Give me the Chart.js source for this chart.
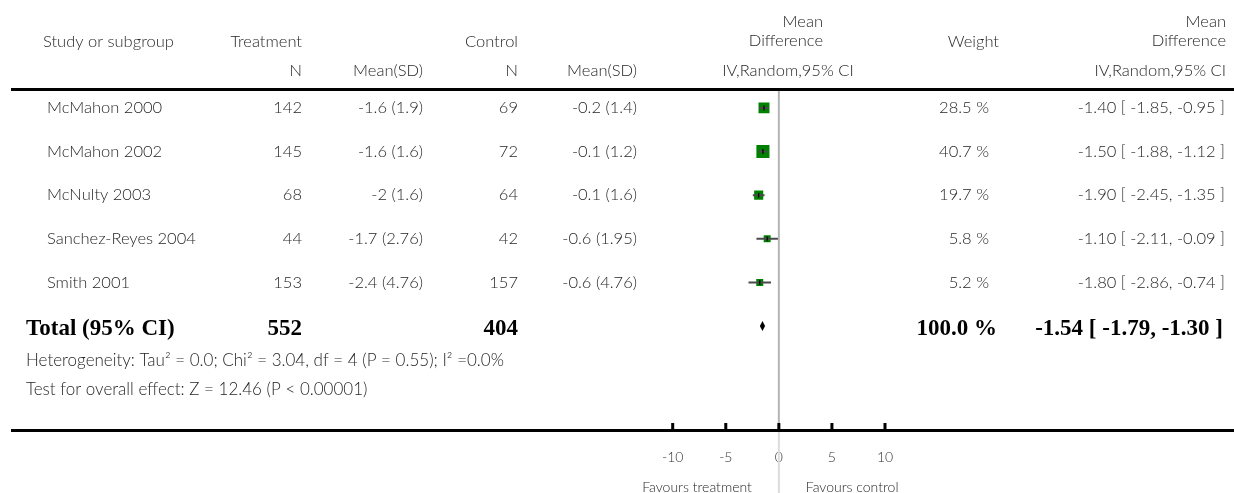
<!DOCTYPE html>
<html>
<head>
<meta charset="utf-8">
<title>Forest plot</title>
<script src="https://cdn.jsdelivr.net/npm/chart.js@4.4.1/dist/chart.umd.min.js"></script>
<style>
  html, body { margin: 0; padding: 0; background: #fff; }
  canvas { display: block; }
</style>
</head>
<body>
<canvas id="forest" width="1234" height="493"></canvas>
<script>
const studies = ['McMahon 2000', 'McMahon 2002', 'McNulty 2003', 'Sanchez-Reyes 2004', 'Smith 2001'];
const treatN = [142, 145, 68, 44, 153];
const treatMean = [-1.6, -1.6, -2, -1.7, -2.4];
const treatSD = [1.9, 1.6, 1.6, 2.76, 4.76];
const controlN = [69, 72, 64, 42, 157];
const controlMean = [-0.2, -0.1, -0.1, -0.6, -0.6];
const controlSD = [1.4, 1.2, 1.6, 1.95, 4.76];
const weights = [28.5, 40.7, 19.7, 5.8, 5.2];
const meanDiff = [-1.40, -1.50, -1.90, -1.10, -1.80];
const ciLow = [-1.85, -1.88, -2.45, -2.11, -2.86];
const ciHigh = [-0.95, -1.12, -1.35, -0.09, -0.74];

const totalN = [552, 404];
const totalWeight = 100.0;
const totalDiff = -1.54;
const totalLow = -1.79;
const totalHigh = -1.30;

const xTicks = [-10, -5, 0, 5, 10];
const heterogeneity = 'Heterogeneity: Tau\u00B2 = 0.0; Chi\u00B2 = 3.04, df = 4 (P = 0.55); I\u00B2 =0.0%';
const overallEffect = 'Test for overall effect: Z = 12.46 (P < 0.00001)';

const SANS = 'Lato, "Open Sans", sans-serif';
const SERIF = '"Liberation Serif", "DejaVu Serif", serif';
const TEXT = '#262626';
const totalRow = studies.length;

const fmtCI = (m, lo, hi) => `${m.toFixed(2)} [ ${lo.toFixed(2)}, ${hi.toFixed(2)} ]`;
const squareSide = (w) => Math.max(7, 2.05 * Math.sqrt(w));

// columns of the table, x is the anchor edge
const columns = [
  { x: 47, align: 'left', cell: (i) => studies[i] },
  { x: 302, align: 'right', cell: (i) => String(treatN[i]) },
  { x: 423, align: 'right', cell: (i) => `${treatMean[i]} (${treatSD[i]})` },
  { x: 518, align: 'right', cell: (i) => String(controlN[i]) },
  { x: 637, align: 'right', cell: (i) => `${controlMean[i]} (${controlSD[i]})` },
  { x: 989, align: 'right', cell: (i) => `${weights[i].toFixed(1)} %` },
  { x: 1225, align: 'right', cell: (i) => fmtCI(meanDiff[i], ciLow[i], ciHigh[i]) },
];

const headers = [
  { text: 'Study or subgroup', x: 43, y: 42, align: 'left' },
  { text: 'Treatment', x: 302, y: 42, align: 'right' },
  { text: 'N', x: 302, y: 71, align: 'right' },
  { text: 'Mean(SD)', x: 423, y: 71, align: 'right' },
  { text: 'Control', x: 518, y: 42, align: 'right' },
  { text: 'N', x: 518, y: 71, align: 'right' },
  { text: 'Mean(SD)', x: 637, y: 71, align: 'right' },
  { text: 'Mean', x: 823, y: 22, align: 'right' },
  { text: 'Difference', x: 823, y: 41, align: 'right' },
  { text: 'IV,Random,95% CI', x: 788, y: 71, align: 'center' },
  { text: 'Weight', x: 999, y: 42, align: 'right' },
  { text: 'Mean', x: 1226, y: 22, align: 'right' },
  { text: 'Difference', x: 1226, y: 41, align: 'right' },
  { text: 'IV,Random,95% CI', x: 1226, y: 71, align: 'right' },
];

function put(ctx, text, x, y, align, font, color) {
  ctx.font = font;
  ctx.fillStyle = color || TEXT;
  ctx.textAlign = align;
  ctx.textBaseline = 'middle';
  ctx.fillText(text, x, y);
}

const forestPlugin = {
  id: 'forestTable',
  beforeDatasetsDraw(chart) {
    const { ctx, chartArea, scales: { x } } = chart;
    const zero = x.getPixelForValue(0);
    ctx.save();
    ctx.lineWidth = 2;
    ctx.strokeStyle = '#b4b4b4';
    ctx.beginPath();
    ctx.moveTo(zero, chartArea.top);
    ctx.lineTo(zero, chartArea.bottom);
    ctx.stroke();
    ctx.strokeStyle = '#dcdcdc';
    ctx.beginPath();
    ctx.moveTo(zero, chartArea.bottom);
    ctx.lineTo(zero, chart.height);
    ctx.stroke();
    ctx.restore();
  },
  afterDraw(chart) {
    const { ctx, chartArea, scales: { x, y } } = chart;
    ctx.save();

    // rules
    ctx.fillStyle = '#000';
    ctx.fillRect(11, chartArea.top - 2, chart.width - 11, 3);
    ctx.fillRect(11, chartArea.bottom, chart.width - 11, 3);
    xTicks.forEach((t) => {
      ctx.fillRect(x.getPixelForValue(t) - 1.5, chartArea.bottom - 6, 3, 6);
    });

    // pooled diamond
    const cy = y.getPixelForValue(totalRow);
    ctx.fillStyle = '#000';
    ctx.beginPath();
    ctx.moveTo(x.getPixelForValue(totalLow), cy);
    ctx.lineTo(x.getPixelForValue(totalDiff), cy - 5);
    ctx.lineTo(x.getPixelForValue(totalHigh), cy);
    ctx.lineTo(x.getPixelForValue(totalDiff), cy + 5);
    ctx.closePath();
    ctx.fill();

    const sans = `300 16.5px ${SANS}`;
    headers.forEach((h) => put(ctx, h.text, h.x, h.y, h.align, sans));

    studies.forEach((_, i) => {
      const ry = y.getPixelForValue(i);
      columns.forEach((c) => put(ctx, c.cell(i), c.x, ry, c.align, sans));
    });

    const bold = `bold 23px ${SERIF}`;
    const ty = y.getPixelForValue(totalRow) + 3;
    put(ctx, 'Total (95% CI)', 26, ty, 'left', bold, '#000');
    put(ctx, String(totalN[0]), 302, ty, 'right', bold, '#000');
    put(ctx, String(totalN[1]), 518, ty, 'right', bold, '#000');
    put(ctx, `${totalWeight.toFixed(1)} %`, 997, ty, 'right', bold, '#000');
    put(ctx, fmtCI(totalDiff, totalLow, totalHigh), 1223, ty, 'right', bold, '#000');

    put(ctx, heterogeneity, 26, 361, 'left', `300 17px ${SANS}`);
    put(ctx, overallEffect, 26, 390, 'left', `300 17px ${SANS}`);

    const zero = x.getPixelForValue(0);
    put(ctx, 'Favours treatment', zero - 27, 487, 'right', `300 14px ${SANS}`);
    put(ctx, 'Favours control', zero + 27, 487, 'left', `300 14px ${SANS}`);

    ctx.restore();
  },
};

const ciSets = studies.map((name, i) => ({
  label: name,
  showLine: true,
  data: [{ x: ciLow[i], y: i }, { x: ciHigh[i], y: i }],
  borderColor: '#4a4a4a',
  borderWidth: 2,
  pointRadius: 0,
  order: 1,
}));

new Chart(document.getElementById('forest'), {
  type: 'scatter',
  data: {
    datasets: [
      {
        label: 'estimate',
        data: meanDiff.map((m, i) => ({ x: m, y: i })),
        pointStyle: 'line',
        rotation: 90,
        radius: 2.5,
        borderColor: '#000',
        borderWidth: 1.2,
        order: 0,
      },
      ...ciSets,
      {
        label: 'weight',
        data: meanDiff.map((m, i) => ({ x: m, y: i })),
        pointStyle: 'rect',
        pointRadius: weights.map((w) => squareSide(w) / Math.SQRT2),
        backgroundColor: '#008000',
        borderColor: '#008000',
        borderWidth: 0,
        order: 2,
      },
    ],
  },
  options: {
    responsive: false,
    animation: false,
    devicePixelRatio: 1,
    layout: { padding: { left: 672.7, right: 349, top: 90, bottom: 0 } },
    plugins: { legend: { display: false }, tooltip: { enabled: false } },
    scales: {
      x: {
        type: 'linear',
        min: -10,
        max: 10,
        afterBuildTicks: (scale) => { scale.ticks = xTicks.map((v) => ({ value: v })); },
        afterFit: (scale) => { scale.height = 64; },
        grid: { display: false, drawTicks: false },
        border: { display: false },
        ticks: {
          padding: 20,
          color: '#333',
          font: { family: SANS, size: 14, weight: '300' },
          maxRotation: 0,
        },
      },
      y: {
        type: 'linear',
        display: false,
        reverse: true,
        min: -0.41,
        max: 7.36,
      },
    },
  },
  plugins: [forestPlugin],
});
</script>
</body>
</html>
